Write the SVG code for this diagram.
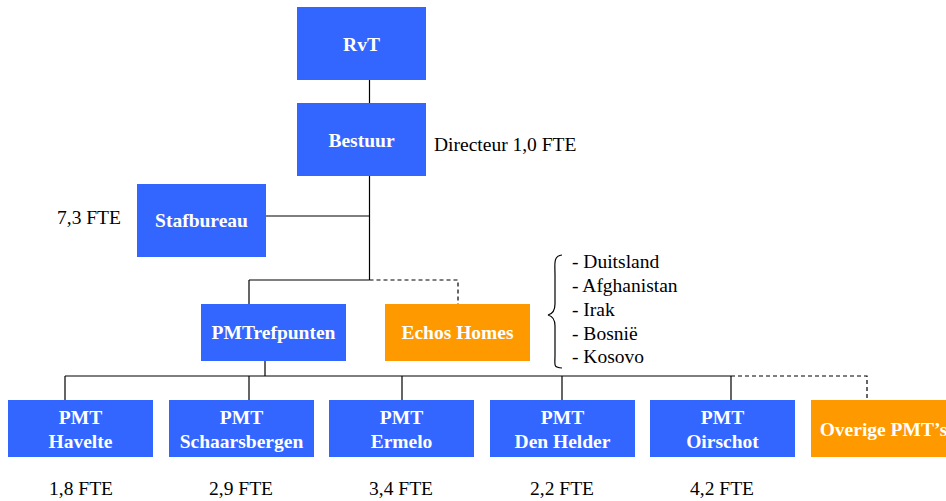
<svg xmlns="http://www.w3.org/2000/svg" width="946" height="501" viewBox="0 0 946 501">
<style>
.b{fill:#3366FF}
.o{fill:#FF9900}
.t{font-family:"Liberation Serif","Times New Roman",serif;font-weight:bold;font-size:19.5px;fill:#FFFFFF;text-anchor:middle}
.l{font-family:"Liberation Serif","Times New Roman",serif;font-size:19.5px;fill:#000000}
.c{fill:none;stroke:#000000;stroke-width:1.2}
.d{fill:none;stroke:#000000;stroke-width:1.2;stroke-dasharray:4,3}
</style>
<rect width="946" height="501" fill="#FFFFFF"/>
<g id="connectors">
<path class="c" d="M369.5 80V103M369.5 176V280M266 216H369.5M249 280H369.5M249 280V304M265 361V376M65 376H731M65 376V400M249 376V400M402 376V400M562 376V400M731 376V400"/>
<path class="d" d="M369.5 280H458V304M731 376H867V400"/>
</g>
<g id="rvt"><rect class="b" x="297" y="7" width="129" height="73"/><text class="t" x="361.5" y="51">RvT</text></g>
<g id="bestuur"><rect class="b" x="297" y="103" width="129" height="73"/><text class="t" x="361.5" y="147">Bestuur</text></g>
<text class="l" x="434" y="151">Directeur 1,0 FTE</text>
<g id="stafbureau"><rect class="b" x="137" y="184" width="129" height="73"/><text class="t" x="201.5" y="227">Stafbureau</text></g>
<text class="l" x="57" y="224">7,3 FTE</text>
<g id="pmtrefpunten"><rect class="b" x="201" y="304" width="145" height="57"/><text class="t" x="273.5" y="339">PMTrefpunten</text></g>
<g id="echos"><rect class="o" x="385" y="304" width="145" height="57"/><text class="t" x="457.5" y="339">Echos Homes</text></g>
<path d="M562 255C553 256 555 264 555 275V304C555 311 552 314 548 315C552 316 555 319 555 326V355C555 366 553 367 562 368" fill="none" stroke="#000" stroke-width="1.2"/>
<g class="l">
<text x="572" y="268">- Duitsland</text>
<text x="572" y="292">- Afghanistan</text>
<text x="572" y="316">- Irak</text>
<text x="572" y="340">- Bosnië</text>
<text x="572" y="363">- Kosovo</text>
</g>
<g id="havelte"><rect class="b" x="8" y="400" width="145" height="57"/><text class="t" x="80.5" y="424">PMT</text><text class="t" x="80.5" y="448">Havelte</text></g>
<g id="schaarsbergen"><rect class="b" x="169" y="400" width="145" height="57"/><text class="t" x="241.5" y="424">PMT</text><text class="t" x="241.5" y="448">Schaarsbergen</text></g>
<g id="ermelo"><rect class="b" x="329" y="400" width="145" height="57"/><text class="t" x="401.5" y="424">PMT</text><text class="t" x="401.5" y="448">Ermelo</text></g>
<g id="denhelder"><rect class="b" x="490" y="400" width="145" height="57"/><text class="t" x="562.5" y="424">PMT</text><text class="t" x="562.5" y="448">Den Helder</text></g>
<g id="oirschot"><rect class="b" x="650" y="400" width="145" height="57"/><text class="t" x="722.5" y="424">PMT</text><text class="t" x="722.5" y="448">Oirschot</text></g>
<g id="overige"><rect class="o" x="811" y="400" width="145" height="57"/><text class="t" x="883.5" y="436">Overige PMT’s</text></g>
<g class="l" text-anchor="middle">
<text x="81" y="495">1,8 FTE</text>
<text x="241" y="495">2,9 FTE</text>
<text x="401" y="495">3,4 FTE</text>
<text x="562" y="495">2,2 FTE</text>
<text x="722" y="495">4,2 FTE</text>
</g>
</svg>
